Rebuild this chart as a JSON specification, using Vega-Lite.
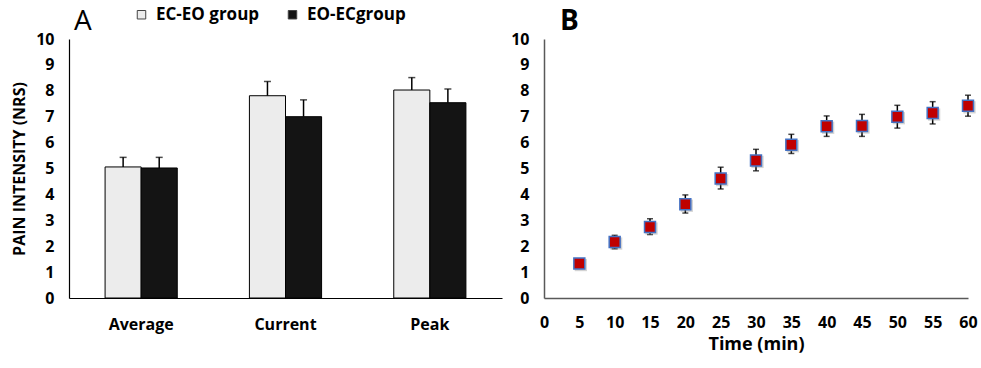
{
  "$schema": "https://vega.github.io/schema/vega-lite/v6.json",
  "background": "white",
  "padding": {"left": 11, "top": 6, "right": 5, "bottom": 5},
  "config": {"font": "Open Sans", "view": {"stroke": null}, "concat": {"spacing": 8}, "axis": {"labelFlush": false}, "axisY": {"labelOverlap": false, "labelSeparation": 0, "labelBound": false}},
  "datasets": {
    "a": [
      {"measure": "Average", "group": "EC-EO group", "value": 5.06, "upper": 5.43},
      {"measure": "Average", "group": "EO-ECgroup", "value": 5.02, "upper": 5.43},
      {"measure": "Current", "group": "EC-EO group", "value": 7.81, "upper": 8.36},
      {"measure": "Current", "group": "EO-ECgroup", "value": 7.0, "upper": 7.65},
      {"measure": "Peak", "group": "EC-EO group", "value": 8.03, "upper": 8.51},
      {"measure": "Peak", "group": "EO-ECgroup", "value": 7.54, "upper": 8.07}
    ],
    "b": [
      {"time": 5, "mean": 1.33, "lo": 1.25, "hi": 1.42},
      {"time": 10, "mean": 2.16, "lo": 1.9, "hi": 2.42},
      {"time": 15, "mean": 2.74, "lo": 2.45, "hi": 3.06},
      {"time": 20, "mean": 3.62, "lo": 3.28, "hi": 3.98},
      {"time": 25, "mean": 4.61, "lo": 4.21, "hi": 5.05},
      {"time": 30, "mean": 5.31, "lo": 4.91, "hi": 5.74},
      {"time": 35, "mean": 5.92, "lo": 5.58, "hi": 6.32},
      {"time": 40, "mean": 6.63, "lo": 6.24, "hi": 7.03},
      {"time": 45, "mean": 6.64, "lo": 6.24, "hi": 7.09},
      {"time": 50, "mean": 7.0, "lo": 6.56, "hi": 7.44},
      {"time": 55, "mean": 7.14, "lo": 6.72, "hi": 7.58},
      {"time": 60, "mean": 7.42, "lo": 7.02, "hi": 7.83}
    ]
  },
  "hconcat": [
    {
      "width": 433,
      "height": 259,
      "title": {"text": "A", "anchor": "start", "frame": "group", "fontSize": 28, "fontWeight": "normal", "color": "black", "dx": 5, "offset": -5},
      "data": {"name": "a"},
      "encoding": {
        "x": {
          "field": "measure", "type": "nominal", "sort": ["Average", "Current", "Peak"],
          "scale": {"paddingInner": 0.5, "paddingOuter": 0.25},
          "axis": {"title": null, "labelAngle": 0, "ticks": false, "labelPadding": 18, "labelFontSize": 16, "labelFontWeight": "bold", "labelColor": "black", "domainColor": "black", "domainWidth": 1.2}
        },
        "xOffset": {"field": "group", "type": "nominal", "sort": ["EC-EO group", "EO-ECgroup"]},
        "y": {
          "type": "quantitative", "scale": {"domain": [0, 10], "nice": false},
          "axis": {"title": "PAIN INTENSITY (NRS)", "values": [0, 1, 2, 3, 4, 5, 6, 7, 8, 9, 10], "labelFlush": false, "labelOverlap": false, "grid": false, "ticks": false, "labelPadding": 15, "labelFontSize": 16, "labelFontWeight": "bold", "labelColor": "black", "titleFontSize": 16, "titleFontWeight": "bold", "titleColor": "black", "titlePadding": 8, "domainColor": "black", "domainWidth": 1.2}
        }
      },
      "layer": [
        {
          "mark": {"type": "bar", "stroke": "black", "strokeWidth": 1},
          "encoding": {
            "y": {"field": "value"},
            "fill": {
              "field": "group", "type": "nominal", "sort": ["EC-EO group", "EO-ECgroup"],
              "scale": {"range": ["#ececec", "#141414"]},
              "legend": {"title": null, "orient": "none", "legendX": 64, "legendY": -33, "direction": "horizontal", "symbolType": "square", "symbolSize": 72, "symbolStrokeColor": "#444444", "symbolStrokeWidth": 1, "labelFontSize": 17, "labelFontWeight": "bold", "labelColor": "black", "labelOffset": 6, "columnPadding": 24, "labelLimit": 300}
            }
          }
        },
        {
          "mark": {"type": "rule", "strokeWidth": 1.5, "color": "black"},
          "encoding": {"y": {"field": "value"}, "y2": {"field": "upper"}}
        },
        {
          "mark": {"type": "tick", "orient": "horizontal", "size": 7, "thickness": 1.5, "color": "black"},
          "encoding": {"y": {"field": "upper"}}
        }
      ]
    },
    {
      "width": 424,
      "height": 259,
      "title": {"text": "B", "anchor": "start", "frame": "group", "fontSize": 28, "fontWeight": "bold", "color": "black", "dx": 16, "offset": -5},
      "data": {"name": "b"},
      "encoding": {
        "x": {
          "field": "time", "type": "quantitative", "scale": {"domain": [0, 60]},
          "axis": {"title": "Time (min)", "values": [0, 5, 10, 15, 20, 25, 30, 35, 40, 45, 50, 55, 60], "labelFlush": false, "labelOverlap": false, "grid": false, "ticks": false, "labelPadding": 16, "labelFontSize": 16, "labelFontWeight": "bold", "labelColor": "black", "titleFontSize": 18, "titleFontWeight": "bold", "titleColor": "black", "titlePadding": 5, "domainColor": "#595959", "domainWidth": 1.5}
        },
        "y": {
          "type": "quantitative", "scale": {"domain": [0, 10], "nice": false},
          "axis": {"title": null, "values": [0, 1, 2, 3, 4, 5, 6, 7, 8, 9, 10], "labelFlush": false, "labelOverlap": false, "labelSeparation": 0, "grid": false, "ticks": false, "labelPadding": 15, "labelFontSize": 16, "labelFontWeight": "bold", "labelColor": "black", "domainColor": "#595959", "domainWidth": 1.5}
        }
      },
      "layer": [
        {
          "mark": {"type": "rule", "strokeWidth": 1.5, "color": "black"},
          "encoding": {"y": {"field": "lo"}, "y2": {"field": "hi"}}
        },
        {
          "mark": {"type": "tick", "orient": "horizontal", "size": 6, "thickness": 1.5, "color": "black"},
          "encoding": {"y": {"field": "hi"}}
        },
        {
          "mark": {"type": "tick", "orient": "horizontal", "size": 6, "thickness": 1.5, "color": "black"},
          "encoding": {"y": {"field": "lo"}}
        },
        {
          "mark": {"type": "point", "shape": "square", "filled": true, "fill": "#808080", "opacity": 0.35, "size": 150, "xOffset": 1.5, "yOffset": 1.5},
          "encoding": {"y": {"field": "mean"}}
        },
        {
          "mark": {"type": "point", "shape": "square", "filled": true, "fill": "#C00000", "stroke": "#4472C4", "strokeWidth": 1.5, "size": 120, "opacity": 1},
          "encoding": {"y": {"field": "mean"}}
        }
      ]
    }
  ]
}
